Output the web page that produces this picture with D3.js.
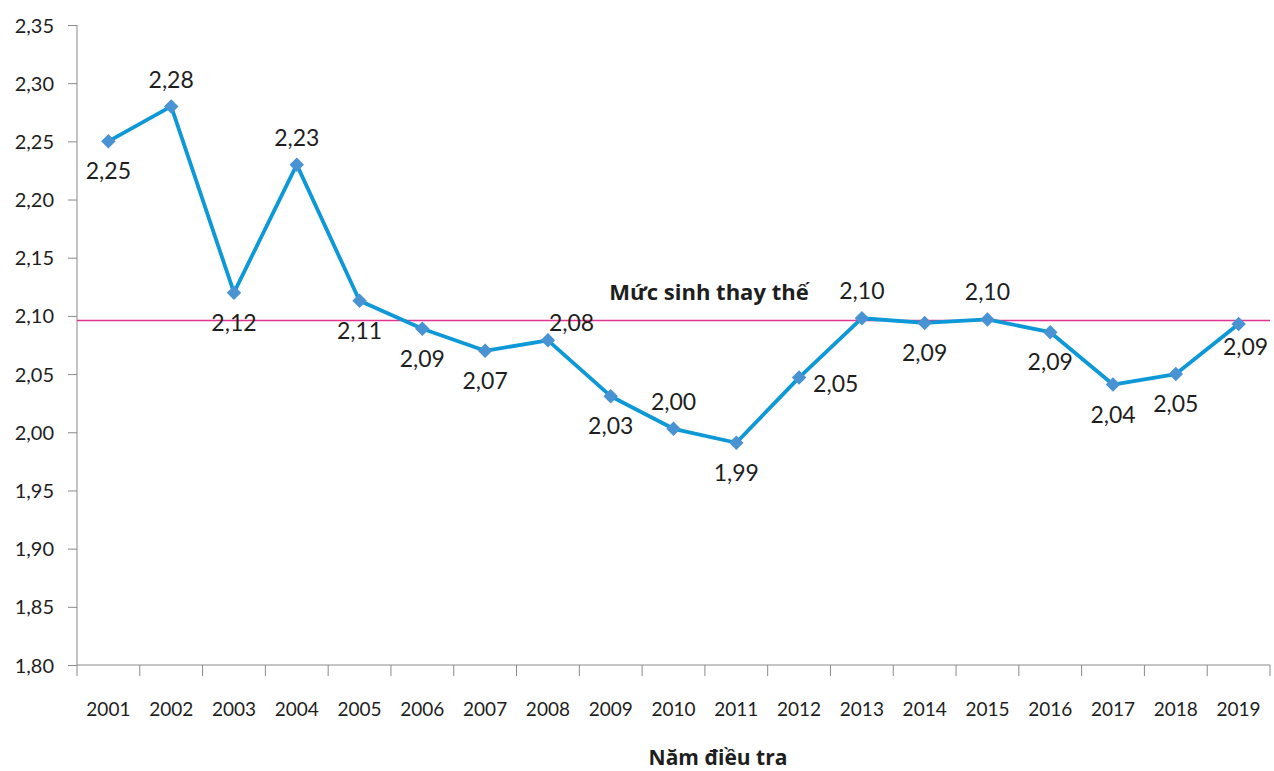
<!DOCTYPE html>
<html>
<head>
<meta charset="utf-8">
<script src="https://cdn.jsdelivr.net/npm/d3@7"></script>
<style>
body { margin: 0; background: #fff; }
text { font-family: Lato, "Open Sans", sans-serif; fill: #1e1e1e; }
</style>
</head>
<body>
<div id="chart"></div>
<script>
/* -----------------------
data
------------------------- */

var years = ["2001","2002","2003","2004","2005","2006","2007","2008","2009","2010",
             "2011","2012","2013","2014","2015","2016","2017","2018","2019"];
var tfr = [2.25, 2.28, 2.12, 2.23, 2.113, 2.089, 2.07, 2.079, 2.031, 2.003,
           1.991, 2.047, 2.098, 2.094, 2.097, 2.086, 2.041, 2.05, 2.093];
// where Excel put each data label
var labelPlace = ["below","above","below","above","below","below","below","upright","below","above",
                  "below","right","above","below","above","below","below","below","belowright"];
var yTicks = [1.80, 1.85, 1.90, 1.95, 2.00, 2.05, 2.10, 2.15, 2.20, 2.25, 2.30, 2.35];
var replacementLevel = 2.096;
var replacementLabel = "Mức sinh thay thế";
var xTitle = "Năm điều tra";

/* -----------------------
set plot
------------------------- */

var width = 1274, height = 771;
var margin = {top: 25, right: 4, bottom: 106, left: 77};

var svg = d3.select("#chart").append("svg")
  .attr("width", width)
  .attr("height", height);

var x = d3.scaleBand().domain(years).range([margin.left, width - margin.right]);
var y = d3.scaleLinear().domain([1.80, 2.35]).range([height - margin.bottom, margin.top]);

var comma = function (v) { return d3.format(".2f")(v).replace(".", ","); };

// y axis
var yAxis = svg.append("g")
  .attr("transform", "translate(" + margin.left + ",0)")
  .call(d3.axisLeft(y).tickValues(yTicks).tickFormat(comma).tickSize(9).tickPadding(14));
yAxis.selectAll("text").style("font-size", "20px").attr("dy", "0.35em");

// x axis
var xAxis = svg.append("g")
  .attr("transform", "translate(0," + (height - margin.bottom) + ")")
  .call(d3.axisBottom(x).tickSize(0).tickPadding(38));
xAxis.selectAll("text").style("font-size", "19px");

// band boundary ticks
xAxis.selectAll(".bound")
  .data(years.concat(["end"]))
  .enter().append("line")
  .attr("x1", function (d, i) { return i < years.length ? x(d) : x.range()[1]; })
  .attr("x2", function (d, i) { return i < years.length ? x(d) : x.range()[1]; })
  .attr("y1", 0).attr("y2", 11)
  .attr("stroke", "#8a8a8a");

svg.selectAll(".tick line").attr("stroke", "#8a8a8a");
yAxis.select(".domain").remove();
xAxis.select(".domain").remove();
svg.append("line")
  .attr("x1", margin.left).attr("x2", margin.left)
  .attr("y1", y(2.35)).attr("y2", y(1.80))
  .attr("stroke", "#8a8a8a");
svg.append("line")
  .attr("x1", margin.left).attr("x2", x.range()[1])
  .attr("y1", y(1.80)).attr("y2", y(1.80))
  .attr("stroke", "#8a8a8a");

/* -----------------------
replacement level
------------------------- */

svg.append("line")
  .attr("x1", margin.left).attr("x2", x.range()[1])
  .attr("y1", y(replacementLevel)).attr("y2", y(replacementLevel))
  .attr("stroke", "#e0368f")
  .attr("stroke-width", 1.5);

svg.append("text")
  .attr("x", 709)
  .attr("y", y(replacementLevel) - 21)
  .attr("text-anchor", "middle")
  .style("font-family", "'Open Sans', sans-serif")
  .style("font-size", "22px")
  .style("font-weight", "bold")
  .text(replacementLabel);

/* -----------------------
series
------------------------- */

var cx = function (d, i) { return x(years[i]) + x.bandwidth() / 2; };

svg.append("path")
  .datum(tfr)
  .attr("fill", "none")
  .attr("stroke", "#0d98d8")
  .attr("stroke-width", 3.8)
  .attr("stroke-linejoin", "round")
  .attr("d", d3.line().x(cx).y(function (d) { return y(d); }));

svg.selectAll(".marker")
  .data(tfr)
  .enter().append("path")
  .attr("class", "marker")
  .attr("d", d3.symbol().type(d3.symbolSquare).size(105))
  .attr("transform", function (d, i) { return "translate(" + cx(d, i) + "," + y(d) + ") rotate(45)"; })
  .attr("fill", "#4a93d2");

var offsets = {
  below:      {dx: 0,  dy: 30,  anchor: "middle"},
  belowright: {dx: 7,  dy: 23,  anchor: "middle"},
  above:      {dx: 0,  dy: -27, anchor: "middle"},
  right:      {dx: 14, dy: 6,   anchor: "start"},
  upright:    {dx: 1,  dy: -17, anchor: "start"}
};

svg.selectAll(".lbl")
  .data(tfr)
  .enter().append("text")
  .attr("class", "lbl")
  .attr("x", function (d, i) { return cx(d, i) + offsets[labelPlace[i]].dx; })
  .attr("y", function (d, i) { return y(d) + offsets[labelPlace[i]].dy; })
  .attr("dy", "0.35em")
  .attr("text-anchor", function (d, i) { return offsets[labelPlace[i]].anchor; })
  .style("font-size", "23px")
  .text(comma);

/* -----------------------
axis title
------------------------- */

svg.append("text")
  .attr("x", 718)
  .attr("y", 765)
  .attr("text-anchor", "middle")
  .style("font-family", "'Open Sans', sans-serif")
  .style("font-size", "21px")
  .style("font-weight", "bold")
  .text(xTitle);
</script>
</body>
</html>
